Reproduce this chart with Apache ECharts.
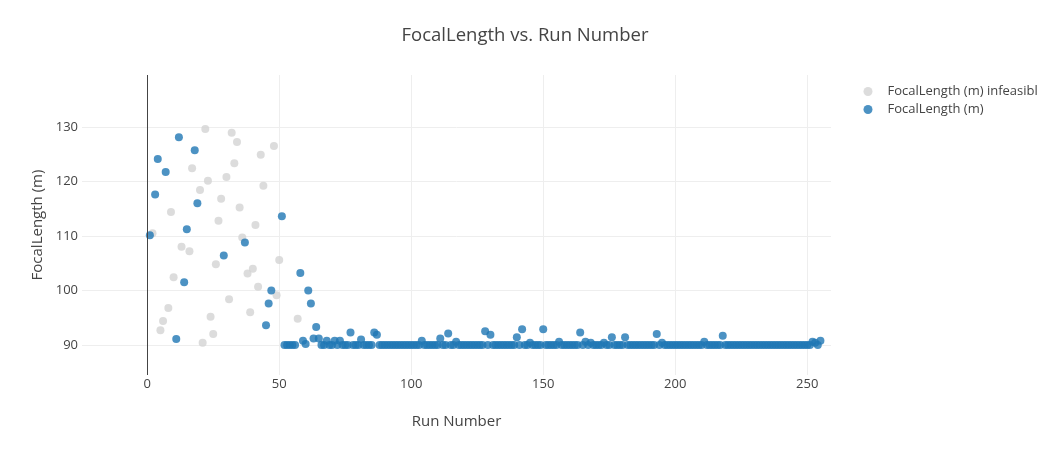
<!DOCTYPE html>
<html>
<head>
<meta charset="utf-8">
<script src="https://cdn.jsdelivr.net/npm/echarts@6/dist/echarts.min.js"></script>
<style>
html,body{margin:0;padding:0;background:#fff;}
#chart{width:1050px;height:455px;}
</style>
</head>
<body>
<div id="chart"></div>
<script>
const titleText = 'FocalLength vs. Run Number';
const xAxisTitle = 'Run Number';
const yAxisTitle = 'FocalLength (m)';
const seriesNames = ['FocalLength (m) infeasible', 'FocalLength (m)'];

const infeasibleRuns = [2,5,6,8,9,10,13,16,17,20,21,22,23,24,25,26,27,28,30,31,32,33,34,35,36,38,39,40,41,42,43,44,48,49,50,57];
const infeasibleValues = [110.5,92.7,94.4,96.8,114.4,102.4,108.0,107.2,122.4,118.4,90.4,129.6,120.1,95.2,92.0,104.8,112.8,116.8,120.8,98.4,128.9,123.3,127.2,115.2,109.7,103.1,96.0,104.0,112.0,100.7,124.9,119.2,126.5,99.1,105.6,94.8];

const feasibleRuns = [
  1,3,4,7,11,12,14,15,18,19,29,37,45,46,47,51,
  52,53,54,55,56,58,59,60,
  61,62,63,64,65,66,67,68,69,70,
  71,72,73,74,75,76,77,78,79,80,
  81,82,83,84,85,86,87,88,89,90,
  91,92,93,94,95,96,97,98,99,100,
  101,102,103,104,105,106,107,108,109,110,
  111,112,113,114,115,116,117,118,119,120,
  121,122,123,124,125,126,127,128,129,130,
  131,132,133,134,135,136,137,138,139,140,
  141,142,143,144,145,146,147,148,149,150,
  151,152,153,154,155,156,157,158,159,160,
  161,162,163,164,165,166,167,168,169,170,
  171,172,173,174,175,176,177,178,179,180,
  181,182,183,184,185,186,187,188,189,190,
  191,192,193,194,195,196,197,198,199,200,
  201,202,203,204,205,206,207,208,209,210,
  211,212,213,214,215,216,217,218,219,220,
  221,222,223,224,225,226,227,228,229,230,
  231,232,233,234,235,236,237,238,239,240,
  241,242,243,244,245,246,247,248,249,250,
  251,252,253,254,255
];
const feasibleValues = [
  110.1,117.6,124.1,121.7,91.1,128.1,101.5,111.2,125.7,116.0,106.4,108.8,93.6,97.6,100.0,113.6,
  90,90,90,90,90,103.2,90.8,90.2,
  100.0,97.6,91.2,93.3,91.2,90,90,90.8,90,90,
  90.8,90,90.8,90,90,90,92.3,90,90,90,
  91.0,90,90,90,90,92.3,91.9,90,90,90,
  90,90,90,90,90,90,90,90,90,90,
  90,90,90,90.8,90,90,90,90,90,90,
  91.2,90,90,92.1,90,90,90.6,90,90,90,
  90,90,90,90,90,90,90,92.5,90,91.9,
  90,90,90,90,90,90,90,90,90,91.4,
  90,92.9,90,90,90.4,90,90,90,90,92.9,
  90,90,90,90,90,90.6,90,90,90,90,
  90,90,90,92.3,90,90.6,90,90.4,90,90,
  90,90,90.4,90,90,91.4,90,90,90,90,
  91.4,90,90,90,90,90,90,90,90,90,
  90,90,92.0,90,90.4,90,90,90,90,90,
  90,90,90,90,90,90,90,90,90,90,
  90.6,90,90,90,90,90,90,91.7,90,90,
  90,90,90,90,90,90,90,90,90,90,
  90,90,90,90,90,90,90,90,90,90,
  90,90,90,90,90,90,90,90,90,90,
  90,90.6,90.4,90,90.8
];

const infeasibleData = infeasibleRuns.map((r, i) => [r, infeasibleValues[i]]);
const feasibleData = feasibleRuns.map((r, i) => [r, feasibleValues[i]]);

const FONT = '"Open Sans", verdana, arial, sans-serif';
const chart = echarts.init(document.getElementById('chart'), null, {renderer: 'canvas'});
chart.setOption({
  backgroundColor: '#fff',
  animation: false,
  textStyle: {fontFamily: FONT, color: '#444'},
  title: {
    text: titleText,
    left: 'center',
    top: 21,
    textStyle: {fontFamily: FONT, fontSize: 18.5, fontWeight: 'normal', color: '#444'}
  },
  legend: {
    orient: 'vertical',
    left: 858.5,
    top: 80,
    itemWidth: 9,
    itemHeight: 9,
    itemGap: 5,
    icon: 'circle',
    data: seriesNames,
    textStyle: {fontFamily: FONT, fontSize: 13, color: '#444', padding: [0,0,0,10], width: 154, overflow: 'truncate', ellipsis: ''}
  },
  grid: {left: 82, right: 219, top: 75, bottom: 80, containLabel: false},
  xAxis: {
    type: 'value',
    min: -24.7,
    max: 259,
    splitNumber: 5,
    name: xAxisTitle,
    nameLocation: 'middle',
    nameGap: 39,
    nameTextStyle: {fontFamily: FONT, fontSize: 15, color: '#444'},
    axisLine: {show: false},
    axisTick: {show: false},
    axisLabel: {
      margin: 3, fontFamily: FONT, fontSize: 13, color: '#444',
      showMinLabel: false, showMaxLabel: false,
      formatter: v => (Math.abs(v % 50) < 1e-9 ? String(v) : '')
    },
    splitLine: {show: true, showMinLine: false, showMaxLine: false, lineStyle: {color: '#eee', width: 1}}
  },
  yAxis: {
    type: 'value',
    min: 84.5,
    max: 139.5,
    splitNumber: 5,
    name: yAxisTitle,
    nameLocation: 'middle',
    nameGap: 37,
    nameTextStyle: {fontFamily: FONT, fontSize: 15, color: '#444'},
    axisLine: {show: false},
    axisTick: {show: false},
    axisLabel: {
      margin: 4, fontFamily: FONT, fontSize: 13, color: '#444',
      showMinLabel: false, showMaxLabel: false,
      formatter: v => (Math.abs(v % 10) < 1e-9 ? String(v) : '')
    },
    splitLine: {show: true, showMinLine: false, showMaxLine: false, lineStyle: {color: '#eee', width: 1}}
  },
  series: [
    {
      name: seriesNames[0],
      type: 'scatter',
      data: infeasibleData,
      symbol: 'circle',
      symbolSize: 8,
      itemStyle: {color: '#d3d3d3', opacity: 0.8},
      markLine: {
        silent: true,
        symbol: ['none', 'none'],
        label: {show: false},
        lineStyle: {color: '#444', width: 1, type: 'solid'},
        emphasis: {disabled: true},
        data: [{xAxis: 0}]
      },
      z: 2
    },
    {
      name: seriesNames[1],
      type: 'scatter',
      data: feasibleData,
      symbol: 'circle',
      symbolSize: 8,
      itemStyle: {color: '#1f77b4', opacity: 0.8},
      z: 3
    }
  ]
});
</script>
</body>
</html>
